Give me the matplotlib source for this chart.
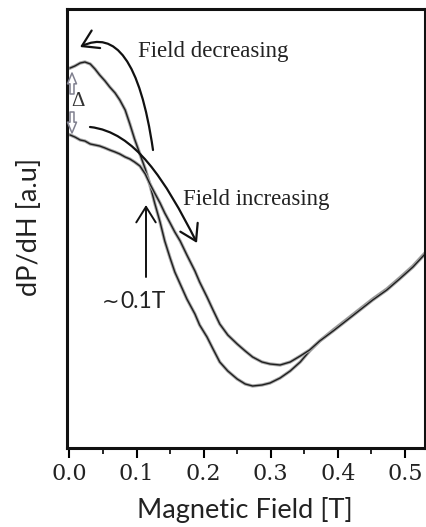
import matplotlib
matplotlib.use("Agg")
import matplotlib.pyplot as plt
from matplotlib.patches import FancyArrowPatch
from matplotlib.path import Path
import matplotlib.patheffects as pe

# ---- data ----
field_T = [0.001, 0.008, 0.016, 0.023, 0.031, 0.038, 0.045, 0.053, 0.060, 0.068,
           0.075, 0.083, 0.090, 0.097, 0.105, 0.113, 0.120, 0.127, 0.135, 0.142,
           0.150, 0.157, 0.165, 0.175, 0.187, 0.194, 0.205, 0.214, 0.224, 0.236,
           0.250, 0.262, 0.273, 0.287, 0.299, 0.314, 0.329, 0.344, 0.358, 0.373,
           0.393, 0.414, 0.433, 0.452, 0.473, 0.492, 0.512, 0.530]
dPdH_decreasing = [3.80, 3.82, 3.85, 3.86, 3.84, 3.79, 3.73, 3.67, 3.61, 3.55,
                   3.48, 3.38, 3.24, 3.09, 2.94, 2.79, 2.63, 2.45, 2.26, 2.07,
                   1.90, 1.76, 1.64, 1.49, 1.34, 1.23, 1.11, 0.99, 0.86, 0.77,
                   0.69, 0.64, 0.62, 0.63, 0.65, 0.70, 0.77, 0.86, 0.97, 1.07,
                   1.18, 1.29, 1.39, 1.49, 1.59, 1.70, 1.82, 1.95]
dPdH_increasing = [3.13, 3.11, 3.08, 3.07, 3.04, 3.03, 3.02, 3.00, 2.98, 2.96,
                   2.94, 2.91, 2.89, 2.86, 2.82, 2.74, 2.64, 2.55, 2.45, 2.35,
                   2.25, 2.16, 2.07, 1.93, 1.77, 1.66, 1.51, 1.38, 1.24, 1.13,
                   1.04, 0.97, 0.91, 0.86, 0.84, 0.83, 0.86, 0.92, 0.98, 1.07,
                   1.17, 1.28, 1.38, 1.48, 1.58, 1.69, 1.81, 1.94]
xticks = [0.0, 0.1, 0.2, 0.3, 0.4, 0.5]
xtick_labels = ["0.0", "0.1", "0.2", "0.3", "0.4", "0.5"]

W, H = 427, 527
fig = plt.figure(figsize=(W / 100, H / 100), dpi=100)
ax = fig.add_axes([67 / W, 1 - 448 / H, (425 - 67) / W, (448 - 9) / H])


def P(px, py):
    return (px / W, 1 - py / H)


halo = [pe.Stroke(linewidth=2.4, foreground="#a8a8a8"), pe.Normal()]
ax.plot(field_T, dPdH_decreasing, color="#1e1e1e", lw=1.0, path_effects=halo)
ax.plot(field_T, dPdH_increasing, color="#1e1e1e", lw=1.0, path_effects=halo)

ax.set_xlim(-0.0037, 0.530)
ax.set_ylim(0, 4.39)
ax.set_xticks(xticks)
ax.set_xticklabels(xtick_labels, family="DejaVu Serif", fontsize=16,
                   color="#222222")
ax.set_xticks([0.05, 0.15, 0.25, 0.35, 0.45], minor=True)
ax.set_yticks([])
ax.tick_params(axis="x", which="major", direction="out", length=7, width=1.5, pad=4)
ax.tick_params(axis="x", which="minor", direction="out", length=4, width=1.2)
for s in ax.spines.values():
    s.set_linewidth(2.2)
    s.set_color("#111111")

# axis labels
fig.text(*P(245, 510), "Magnetic Field [T]", family="Lato", fontsize=19.5,
         ha="center", va="center", color="#222222")
fig.text(*P(30, 227), "dP/dH [a.u]", family="Lato", fontsize=19.5, rotation=90,
         ha="center", va="center", color="#222222")

# annotations
fig.text(*P(138, 52), "Field decreasing", family="Liberation Serif", fontsize=16.5,
         ha="left", va="center", color="#222222")
fig.text(*P(183, 200), "Field increasing", family="Liberation Serif", fontsize=16.5,
         ha="left", va="center", color="#222222")
fig.text(*P(111, 302), "~", family="DejaVu Sans", fontsize=15,
         ha="center", va="center", color="#222222")
fig.text(*P(143, 301), "0.1T", family="Lato", fontsize=16.5,
         ha="center", va="center", color="#222222")

codes = [Path.MOVETO, Path.CURVE4, Path.CURVE4, Path.CURVE4]
arr_dec = Path([P(153, 150), P(140, 60), P(115, 30), P(80, 47)], codes)
arr_inc = Path([P(90, 127), P(135, 132), P(165, 180), P(197, 243)], codes)
style = "->,head_length=0.8,head_width=0.5"
for pth in (arr_dec, arr_inc):
    fig.add_artist(FancyArrowPatch(path=pth, arrowstyle=style, lw=1.6,
                                   color="#111111", transform=fig.transFigure,
                                   mutation_scale=14))
fig.add_artist(FancyArrowPatch(P(146, 277), P(146, 205), arrowstyle=style, lw=1.4,
                               color="#111111", transform=fig.transFigure,
                               mutation_scale=14, shrinkA=0, shrinkB=0))

# delta marker with hollow arrows
hollow = "simple,head_width=0.5,head_length=0.6,tail_width=0.22"
fig.add_artist(FancyArrowPatch(P(72, 94), P(72, 73), arrowstyle=hollow,
                               mutation_scale=13, facecolor="white",
                               edgecolor="#80808f", lw=1.1,
                               shrinkA=0, shrinkB=0,
                               transform=fig.transFigure))
fig.add_artist(FancyArrowPatch(P(72, 112), P(72, 133), arrowstyle=hollow,
                               mutation_scale=13, facecolor="white",
                               edgecolor="#80808f", lw=1.1,
                               shrinkA=0, shrinkB=0,
                               transform=fig.transFigure))
fig.text(*P(78, 101), "Δ", family="Liberation Serif", fontsize=15,
         ha="center", va="center", color="#333333")

fig.savefig("out.png", dpi=100)
